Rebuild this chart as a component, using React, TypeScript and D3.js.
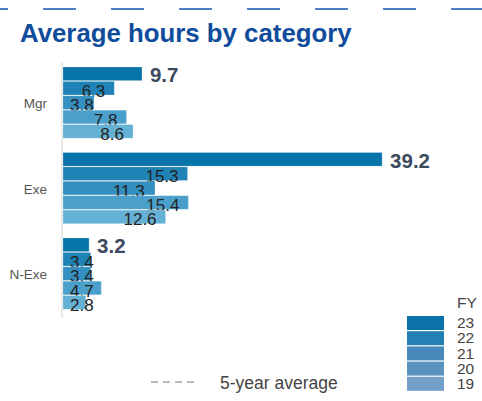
import React from "react";
import * as d3 from "d3";

const categories = ["Mgr", "Exe", "N-Exe"];
const years = ["23", "22", "21", "20", "19"];
const mgrValues = [9.7, 6.3, 3.8, 7.8, 8.6];
const exeValues = [39.2, 15.3, 11.3, 15.4, 12.6];
const nexeValues = [3.2, 3.4, 3.4, 4.7, 2.8];
const barColors = ["#0774a9", "#2083b6", "#3490c0", "#4ba0cb", "#65b0d5"];
const legendColors = ["#0a72a8", "#2280b4", "#4689ba", "#5b93bf", "#739fc8"];

const seriesByCategory = [mgrValues, exeValues, nexeValues];
const FONT = "'Liberation Sans', Arial, Helvetica, sans-serif";

export default function App() {
  const W = 482, H = 401;
  const x = d3.scaleLinear().domain([0, 40]).range([63, 63 + 8.14 * 40]);
  const y0 = d3.scaleBand<string>().domain(categories).range([67, 310]).paddingInner(0.158).paddingOuter(0);
  const y1 = d3.scaleBand<string>().domain(years).range([0, y0.bandwidth()]);
  const legendY = d3.scaleBand<string>().domain(years).range([316, 392]);

  const charW = 0.556 * 17, dotW = 0.278 * 17;
  const textWidth = (s: string) => s.split("").reduce((a, c) => a + (c === "." ? dotW : charW), 0);

  return (
    <svg width={W} height={H} style={{ position: "absolute", left: 0, top: 0, fontFamily: FONT }}>
      <line x1={0} x2={W} y1={9} y2={9} stroke="#4d80c3" strokeWidth={2} strokeDasharray="33 35" strokeDashoffset={-43} />
      <text x={20} y={42} fontSize={25.8} fontWeight="bold" fill="#0f4c9c">Average hours by category</text>
      <line x1={62} x2={62} y1={62} y2={318} stroke="#e2e2e2" strokeWidth={1.5} />
      {categories.map((cat, ci) => {
        const gy = y0(cat)!;
        const vals = seriesByCategory[ci];
        return (
          <g key={cat}>
            <text x={47} y={gy + y0.bandwidth() / 2 + 5} textAnchor="end" fontSize={13.5} fill="#555">{cat}</text>
            {years.map((yr, yi) => {
              const v = vals[yi];
              const by = gy + y1(yr)!;
              const bh = y1.bandwidth();
              const end = x(v);
              const label = v.toFixed(1);
              return (
                <g key={yr}>
                  <rect x={x(0)} y={by} width={end - x(0)} height={bh - 0.8} fill={barColors[yi]} stroke="#ffffff" strokeOpacity={0.25} strokeWidth={0.8} />
                  {yi === 0 ? (
                    <text x={end + 8} y={by + bh + 1} fontSize={20.5} fontWeight="bold" fill="#3c4a5e">{label}</text>
                  ) : (
                    <text x={Math.max(70, end - 9 - textWidth(label))} y={by + bh + 1} fontSize={17} fill="#222">{label}</text>
                  )}
                </g>
              );
            })}
          </g>
        );
      })}
      <line x1={151} x2={195} y1={382} y2={382} stroke="#bbbbbb" strokeWidth={2} strokeDasharray="7 5" />
      <text x={220} y={389} fontSize={17.5} fill="#444">5-year average</text>
      <text x={457} y={308} fontSize={15.5} fill="#444">FY</text>
      {years.map((yr, yi) => (
        <g key={yr}>
          <rect x={407} y={legendY(yr)!} width={37} height={legendY.bandwidth() - 1.2} fill={legendColors[yi]} />
          <text x={457} y={legendY(yr)! + legendY.bandwidth() - 3} fontSize={15.5} fill="#444">{yr}</text>
        </g>
      ))}
    </svg>
  );
}
